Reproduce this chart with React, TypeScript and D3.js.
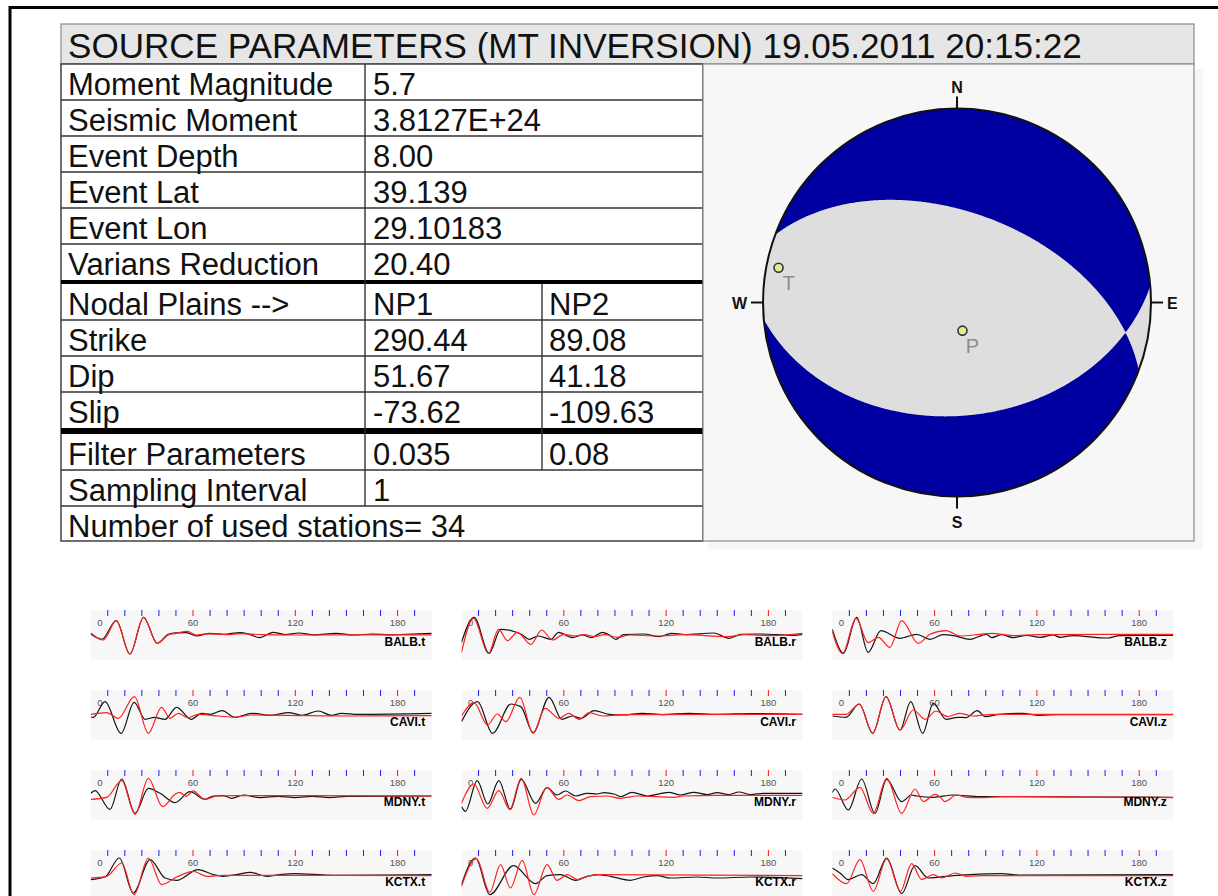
import React from "react";
import * as d3 from "d3";

// ---------------- DATA ----------------
const TITLE = "SOURCE PARAMETERS (MT INVERSION) 19.05.2011 20:15:22";
const INFO_LABELS = ["Moment Magnitude", "Seismic Moment", "Event Depth", "Event Lat", "Event Lon", "Varians Reduction"];
const INFO_VALUES = ["5.7", "3.8127E+24", "8.00", "39.139", "29.10183", "20.40"];
const PLANE_LABELS = ["Nodal Plains -->", "Strike", "Dip", "Slip"];
const NP1_VALUES = ["NP1", "290.44", "51.67", "-73.62"];
const NP2_VALUES = ["NP2", "89.08", "41.18", "-109.63"];
const FILTER_VALUES = ["0.035", "0.08"];
const SAMPLING_INTERVAL = "1";
const USED_STATIONS = 34;

// focal mechanism (NP1) used for the beachball
const STRIKE = 290.44;
const DIP = 51.67;
const RAKE = -73.62;
// principal axes as plotted (azimuth, plunge in degrees)
const AXIS_NAMES = ["T", "P"];
const AXIS_AZ = [281, 169];
const AXIS_PLUNGE = [7, 78];
const COMPASS = ["N", "E", "S", "W"];

// waveform panels
const STATIONS = ["BALB", "CAVI", "MDNY", "KCTX"];
const COMPONENTS = ["t", "r", "z"];
const TIME_LABELS = [0, 60, 120, 180];
const TIME_TICKS = [10, 20, 30, 40, 50, 60, 70, 80, 90, 100, 110, 120, 130, 140, 150, 160, 170, 180, 190];

type P = [number, number];
// [time s, amplitude] observed (black) and synthetic (red)
const BALB_T_OBS: P[] = [[0,1],[6.5,-5],[15,13.7],[23,-19.7],[31,17],[39,-9],[45.5,0],[50,1.5],[56,1.7],[62,-1.7],[70,1],[78,0],[87.6,1.7],[93,0],[99,-3.3],[107,2],[114,-0.3],[122,1.3],[131,-0.5],[144,1],[154,-0.7],[165,0.3],[175,-0.5],[185,0],[200,1]];
const BALB_T_SYN: P[] = [[0,0],[7.4,-5.7],[15,13.7],[23,-19.7],[31,17],[39,-9],[45.5,-0.7],[50,1],[56.7,3],[62,-0.7],[68,0.5],[80,-0.3],[88,0.7],[100,-0.3],[120,-0.7],[200,-0.5]];
const BALB_R_OBS: P[] = [[0,-8],[7.4,17],[16.2,-19],[23,5],[29,3.7],[35,0],[39.7,-5],[45,-1.7],[52.4,-5],[57,2],[65,-3.3],[71,-0.7],[76,-3.3],[82.7,2],[86,0],[90.5,-5],[95,-0.3],[107,0.3],[116,-2.3],[123,1],[131,-0.3],[148,1.3],[157,-4],[164,0],[175,0.3],[195,-1],[200,0]];
const BALB_R_SYN: P[] = [[0,-18],[7,16],[15.8,-19],[21.7,5],[27,-6.3],[32.8,2],[40.7,-10],[47,4.3],[53.4,-5.7],[60,0],[66,-1.7],[72,-0.3],[78,-2.3],[84,-0.3],[91.5,-3],[99,-0.7],[115,-1.7],[130,-0.3],[156,-2.3],[166,-0.3],[181,-1.3],[200,1]];
const BALB_Z_OBS: P[] = [[0,5],[6.5,-19],[14.3,17],[21,-18],[28.5,3.7],[39.7,-4],[49.5,0],[57.3,-5],[65,-0.3],[71,-1.3],[80.7,-5],[90.5,0],[93.5,-3.3],[99.3,-0.3],[106,-3.3],[114,-1],[122,-3],[129.6,-0.7],[133.5,-3],[141,-1.3],[161,-3.7],[168.7,-1.3],[200,-1]];
const BALB_Z_SYN: P[] = [[0,2.7],[6,-19],[13.9,16],[21,-8.3],[27,-3],[33.8,-13],[40.7,13.7],[50.4,-9],[57.3,0],[66.7,3.7],[75,-1.7],[86.6,0],[93.5,1],[106,-1.3],[120,-0.3],[200,0]];

const CAVI_T_OBS: P[] = [[0,-2.7],[1.5,-3],[8.4,12.7],[17.8,-19],[25.5,12],[31.9,-5],[37.5,-3],[43.5,-5],[50.4,7],[59,-5],[65,1],[70,0],[77,3.7],[84.7,-3],[94.4,1],[106,-1],[116,1.7],[124,-1],[133.5,3.3],[141,-1],[147,1],[157,0],[200,1]];
const CAVI_T_SYN: P[] = [[0,0],[9.4,1.7],[16.2,-4],[25.6,17.7],[33.8,-19],[41.6,7],[46.5,-4],[51.4,1],[57,-3.3],[63,0],[75,-1.7],[84.7,-3],[94.4,-0.7],[114,-1],[153,-1.7],[200,-1.3]];
const CAVI_R_OBS: P[] = [[0,-7.3],[9.4,12.7],[18.2,-19],[29,10.3],[34.8,7.7],[42,-18.3],[51.4,17],[58.8,-5],[65,-1.7],[70,-4],[77.8,3.7],[86.6,0],[94.4,-0.7],[106,1],[118,-0.3],[133.5,1],[150,0],[170,0.7],[200,0]];
const CAVI_R_SYN: P[] = [[0,-1.7],[7.4,11.7],[15.2,-10.7],[21,0.3],[26,-7.3],[34.2,17],[42,-19],[49,6],[57.3,-4],[62.8,1],[69,-5],[75,1.7],[82.7,-1.7],[94.4,-0.3],[200,0]];
const CAVI_Z_OBS: P[] = [[0,-1.7],[8,-3],[15.8,10.3],[23.7,-19],[31.5,17.7],[39.7,-15.7],[46,12.7],[53,-19],[59.2,11],[66.7,-5],[73.5,-3],[78.4,-3.3],[85,3.7],[89.8,-2.3],[98,0],[111.6,1],[121.4,-1],[133,-0.3],[200,-0.3]];
const CAVI_Z_SYN: P[] = [[0,0],[8,0],[15.8,10.3],[23.7,-19],[31.5,17.7],[39.7,-15.7],[47.5,4.3],[54.5,-5],[60.8,3.3],[67.6,-2.3],[74.5,1],[82.3,-1.7],[94,0],[200,0]];

const MDNY_T_OBS: P[] = [[0,1],[2.5,3.7],[11.3,-15],[18.2,15.3],[26,-19],[33.8,6],[40.7,1],[49.5,-8.3],[58.3,2.7],[67,-5],[71.9,-1.7],[77.8,-1.3],[82.7,-4],[89.5,-0.7],[99.3,-3.3],[110,-2],[120,-3.3],[130,-2],[140,-3.3],[150,-2],[200,-1.7]];
const MDNY_T_SYN: P[] = [[0,-5],[9.4,-3],[18.2,13.7],[26,-20],[33.8,16],[42.2,-12.3],[49.5,0],[52,2],[56,-2],[60,3.5],[67,-5],[74,-1.7],[84,-1.3],[200,-1.7]];
const MDNY_R_OBS: P[] = [[0,-12.3],[2.3,-17],[9.2,13.7],[15.4,-9.7],[21.9,13.7],[28.7,-15],[35,15],[43.4,-9],[50.2,6.7],[56,-0.7],[61,3.3],[67,-1.7],[73.7,1],[79.6,0.3],[83.5,1.7],[89.9,0],[93.3,-2.3],[100,2],[108.9,-1.7],[121.6,2],[128.4,-0.7],[136.3,2],[144,-0.3],[150,1.7],[156.8,-0.3],[162.7,2.3],[169.5,-0.3],[177,1],[200,1]];
const MDNY_R_SYN: P[] = [[0,-9],[7.2,10.3],[15,-14],[21.9,3.7],[28.3,-15],[35,16],[42.4,-20.7],[49.9,7],[57,-5],[62,-0.7],[68.8,-6.3],[75.7,-2.3],[85.5,-1.7],[93,-4],[103,-1.7],[124.5,-3],[130,-1.7],[150,-1],[200,-1]];
const MDNY_Z_OBS: P[] = [[0,1.7],[1.6,5.3],[9.4,-15.7],[17.2,15.3],[25,-19],[31.9,15],[40.7,-7.3],[46.5,-0.7],[49.5,-1.7],[59.2,-3],[71,-0.7],[86.6,-2.3],[100,-2.3],[120,-2.3],[150,-2.7],[200,-3]];
const MDNY_Z_SYN: P[] = [[0,-3],[7.4,-5.7],[16.2,7],[24,-19],[31.9,16],[40.7,-19],[48.5,5.3],[53.4,-7.3],[60.2,0],[63,-2.3],[66,-7.3],[72.9,-0.7],[78.8,-3],[86.6,-3.3],[100,-2.3],[200,-3.3]];

const KCTX_T_OBS: P[] = [[0,-5.3],[8.4,-2.7],[16.8,16.3],[25,-18.7],[34.8,14.7],[43.6,-3.7],[50.4,-6],[63,4.7],[71.9,-0.3],[77.8,-2],[85.5,-0.3],[93.5,2],[103,-2],[111,-0.3],[119,0.7],[142.6,-1],[200,-0.3]];
const KCTX_T_SYN: P[] = [[0,-3.7],[9.4,-2],[18.2,11.3],[25.4,-20.3],[33.8,16.3],[41.6,-10.3],[50.4,-2.7],[60.2,3],[68,-2],[77.8,-1],[200,-1.3]];
const KCTX_R_OBS: P[] = [[0,-10.3],[8.2,16.3],[16.6,-20.3],[30.5,8.7],[43.4,-9.3],[50.2,-1.3],[58,-0.3],[66.9,-6],[73.7,-2],[79.6,-0.3],[87.4,-2],[99,-6],[106.9,-2.7],[114.8,-1.3],[122.6,-3.7],[138.3,-2.7],[150,-3.7],[169.5,-2.7],[200,-4.3]];
const KCTX_R_SYN: P[] = [[0,-12],[8.8,15.7],[16.6,-18],[22.9,9.7],[28.7,-13.7],[35.6,14],[42.4,-20.3],[50.2,9.7],[56,-6],[62,-0.3],[68,-5.3],[74,-2],[80,-0.3],[200,-1.3]];
const KCTX_Z_OBS: P[] = [[0,6.3],[4.5,1.3],[9.4,-5.3],[17.2,-0.3],[24,-9.3],[31.9,16.3],[40.7,-19.3],[48.5,8.7],[56.3,-3.7],[71,-1.3],[80.7,-0.3],[99.3,0.7],[110,-0.7],[200,-0.3]];
const KCTX_Z_SYN: P[] = [[0,0.7],[8.4,-9.3],[16.2,14.7],[24,-17],[31.9,15.3],[40,-17],[46.5,10.7],[52.4,-5.3],[59.2,-0.3],[64,-3.7],[72,1.3],[78.8,-2],[90,-1.3],[200,-1.3]];

const TRACES: Record<string, [P[], P[]]> = {
  "BALB.t": [BALB_T_OBS, BALB_T_SYN], "BALB.r": [BALB_R_OBS, BALB_R_SYN], "BALB.z": [BALB_Z_OBS, BALB_Z_SYN],
  "CAVI.t": [CAVI_T_OBS, CAVI_T_SYN], "CAVI.r": [CAVI_R_OBS, CAVI_R_SYN], "CAVI.z": [CAVI_Z_OBS, CAVI_Z_SYN],
  "MDNY.t": [MDNY_T_OBS, MDNY_T_SYN], "MDNY.r": [MDNY_R_OBS, MDNY_R_SYN], "MDNY.z": [MDNY_Z_OBS, MDNY_Z_SYN],
  "KCTX.t": [KCTX_T_OBS, KCTX_T_SYN], "KCTX.r": [KCTX_R_OBS, KCTX_R_SYN], "KCTX.z": [KCTX_Z_OBS, KCTX_Z_SYN],
};

// ---------------- LAYOUT / STYLE ----------------
const FONT = "'Liberation Sans', Arial, sans-serif";
const TX0 = 61, TX1 = 703, COL1 = 365, COL2 = 542;
const ROW_H = 36;
const G1 = 64, G2 = 284, G3 = 434;
const BB = { x0: 703, y0: 64, x1: 1194, y1: 541, cx: 957, cy: 302.5, R: 194 };
const BLUE = "#0000a0";
const LIGHT = "#dedede";

function momentTensor(strike: number, dip: number, rake: number) {
  const r = Math.PI / 180;
  const p = strike * r, d = dip * r, l = rake * r;
  const sd = Math.sin(d), cd = Math.cos(d), s2d = Math.sin(2 * d), c2d = Math.cos(2 * d);
  const sl = Math.sin(l), cl = Math.cos(l);
  const sp = Math.sin(p), cp = Math.cos(p), s2p = Math.sin(2 * p), c2p = Math.cos(2 * p);
  const xx = -(sd * cl * s2p + s2d * sl * sp * sp);
  const xy = sd * cl * c2p + 0.5 * s2d * sl * s2p;
  const xz = -(cd * cl * cp + c2d * sl * sp);
  const yy = sd * cl * s2p - s2d * sl * cp * cp;
  const yz = -(cd * cl * sp - c2d * sl * cp);
  const zz = s2d * sl;
  return { xx, xy, xz, yy, yz, zz };
}

function Beachball() {
  const { cx, cy, R } = BB;
  const N = 320, ext = 1.06, step = (2 * ext) / N;
  const M = momentTensor(STRIKE, DIP, RAKE);
  const vals = new Float64Array(N * N);
  for (let j = 0; j < N; j++) {
    for (let i = 0; i < N; i++) {
      const e = -ext + (i + 0.5) * step;
      const n = ext - (j + 0.5) * step;
      let r = Math.hypot(e, n);
      if (r > 1.414) r = 1.414;
      const inc = 2 * Math.asin(r / Math.SQRT2);
      const az = Math.atan2(e, n);
      const dn = Math.sin(inc) * Math.cos(az), de = Math.sin(inc) * Math.sin(az), dd = Math.cos(inc);
      vals[j * N + i] =
        M.xx * dn * dn + M.yy * de * de + M.zz * dd * dd +
        2 * (M.xy * dn * de + M.xz * dn * dd + M.yz * de * dd);
    }
  }
  const contours = d3.contours().size([N, N]).thresholds([0])(Array.from(vals));
  const proj = d3.geoIdentity().scale(step * R).translate([cx - ext * R, cy - ext * R]);
  const path = d3.geoPath(proj);

  const axisPos = AXIS_NAMES.map((name, k) => {
    const inc = ((90 - AXIS_PLUNGE[k]) * Math.PI) / 180;
    const r = Math.SQRT2 * Math.sin(inc / 2);
    const az = (AXIS_AZ[k] * Math.PI) / 180;
    return { name, x: cx + R * r * Math.sin(az), y: cy - R * r * Math.cos(az) };
  });

  const compassPos: Record<string, { tx: number; ty: number; lx: number; ly: number; x2: number; y2: number; anchor: string }> = {
    N: { tx: cx, ty: cy - R, x2: cx, y2: cy - R - 12, lx: cx, ly: cy - R - 16, anchor: "middle" },
    S: { tx: cx, ty: cy + R, x2: cx, y2: cy + R + 12, lx: cx, ly: cy + R + 31, anchor: "middle" },
    E: { tx: cx + R, ty: cy, x2: cx + R + 12, y2: cy, lx: cx + R + 16, ly: cy + 6, anchor: "start" },
    W: { tx: cx - R, ty: cy, x2: cx - R - 12, y2: cy, lx: cx - R - 16, ly: cy + 6, anchor: "end" },
  };

  return (
    <g>
      <rect x={708} y={BB.y0 + 5} width={495} height={BB.y1 - BB.y0 + 4} fill="#f7f7f7" />
      <rect x={BB.x0} y={BB.y0} width={BB.x1 - BB.x0} height={BB.y1 - BB.y0} fill="#f7f7f7" stroke="#8a8a8a" strokeWidth={1.2} />
      <defs>
        <clipPath id="bbclip">
          <circle cx={cx} cy={cy} r={R} />
        </clipPath>
      </defs>
      <circle cx={cx} cy={cy} r={R} fill={LIGHT} />
      <g clipPath="url(#bbclip)">
        {contours.map((c, k) => (
          <path key={k} d={path(c as any) || ""} fill={BLUE} />
        ))}
      </g>
      <circle cx={cx} cy={cy} r={R} fill="none" stroke="#111" strokeWidth={2} />
      {COMPASS.map((k) => {
        const c = compassPos[k];
        return (
          <g key={k}>
            <line x1={c.tx} y1={c.ty} x2={c.x2} y2={c.y2} stroke="#111" strokeWidth={2} />
            <text x={c.lx} y={c.ly} textAnchor={c.anchor as any} fontFamily={FONT} fontWeight="bold" fontSize={16} fill="#111">
              {k}
            </text>
          </g>
        );
      })}
      {axisPos.map((a) => (
        <g key={a.name}>
          <circle cx={a.x} cy={a.y} r={4.5} fill="#e8e89c" stroke="#333" strokeWidth={1.6} />
          <text x={a.x + 10} y={a.y + 22} fontFamily={FONT} fontSize={20} fill="#8c8c8c" textAnchor="middle">
            {a.name}
          </text>
        </g>
      ))}
    </g>
  );
}

function Table() {
  const textProps = { fontFamily: FONT, fontSize: 31, fill: "#111" };
  const rows: JSX.Element[] = [];
  const hlines: number[] = [];
  INFO_LABELS.forEach((lab, i) => {
    const top = G1 + i * ROW_H;
    rows.push(
      <g key={"i" + i}>
        <text x={68} y={top + 30.5} {...textProps}>{lab}</text>
        <text x={COL1 + 8} y={top + 30.5} {...textProps}>{INFO_VALUES[i]}</text>
      </g>
    );
    if (i > 0) hlines.push(top);
  });
  PLANE_LABELS.forEach((lab, i) => {
    const top = G2 + i * ROW_H;
    rows.push(
      <g key={"p" + i}>
        <text x={68} y={top + 30.5} {...textProps}>{lab}</text>
        <text x={COL1 + 8} y={top + 30.5} {...textProps}>{NP1_VALUES[i]}</text>
        <text x={COL2 + 7} y={top + 30.5} {...textProps}>{NP2_VALUES[i]}</text>
      </g>
    );
    if (i > 0) hlines.push(top);
  });
  const g3Labels = ["Filter Parameters", "Sampling Interval"];
  rows.push(
    <g key="f">
      <text x={68} y={G3 + 30.5} {...textProps}>{g3Labels[0]}</text>
      <text x={COL1 + 8} y={G3 + 30.5} {...textProps}>{FILTER_VALUES[0]}</text>
      <text x={COL2 + 7} y={G3 + 30.5} {...textProps}>{FILTER_VALUES[1]}</text>
      <text x={68} y={G3 + ROW_H + 30.5} {...textProps}>{g3Labels[1]}</text>
      <text x={COL1 + 8} y={G3 + ROW_H + 30.5} {...textProps}>{SAMPLING_INTERVAL}</text>
      <text x={68} y={G3 + 2 * ROW_H + 30.5} {...textProps}>{`Number of used stations= ${USED_STATIONS}`}</text>
    </g>
  );
  hlines.push(G3 + ROW_H, G3 + 2 * ROW_H);
  const bottom = G3 + 3 * ROW_H - 1;
  return (
    <g>
      <rect x={TX0} y={24} width={BB.x1 - TX0} height={40} fill="#e6e6e6" stroke="#8a8a8a" strokeWidth={1.2} />
      <text x={68} y={57.5} fontFamily={FONT} fontSize={35.1} fill="#111">{TITLE}</text>
      <rect x={TX0} y={G1} width={TX1 - TX0} height={bottom - G1} fill="#fff" stroke="#333" strokeWidth={1.4} />
      {hlines.map((y, k) => (
        <line key={k} x1={TX0} x2={TX1} y1={y} y2={y} stroke="#333" strokeWidth={1.4} />
      ))}
      <rect x={TX0} y={G1 + 6 * ROW_H} width={TX1 - TX0} height={G2 - (G1 + 6 * ROW_H)} fill="#000" />
      <rect x={TX0} y={G2 + 4 * ROW_H} width={TX1 - TX0} height={G3 - (G2 + 4 * ROW_H)} fill="#000" />
      <line x1={COL1} x2={COL1} y1={G1} y2={G3 + 2 * ROW_H} stroke="#333" strokeWidth={1.4} />
      <line x1={COL2} x2={COL2} y1={G2} y2={G3 + ROW_H} stroke="#333" strokeWidth={1.4} />
      {rows}
    </g>
  );
}

const PANEL_W = 341, PANEL_H = 50;
const PANEL_X0 = 90.7, PANEL_DX = 370.8, PANEL_Y0 = 610, PANEL_DY = 80;

function Panel({ name, left, top, idx }: { name: string; left: number; top: number; idx: number }) {
  const x = d3.scaleLinear().domain([0, 200]).range([left, left + PANEL_W]);
  const base = top + 24.3;
  const y = d3.scaleLinear().domain([-25, 25]).range([base + 25, base - 25]);
  const line = d3
    .line<P>()
    .x((d) => x(d[0]))
    .y((d) => y(d[1]))
    .curve(d3.curveMonotoneX);
  const [obs, syn] = TRACES[name];
  const cid = "pclip" + idx;
  return (
    <g>
      <rect x={left} y={top} width={PANEL_W} height={PANEL_H} fill="#f7f7f7" />
      {TIME_TICKS.map((t) => (
        <line key={t} x1={x(t)} x2={x(t)} y1={top} y2={top + 6} stroke={t % 60 === 0 ? "#ff1010" : "#1a1aff"} strokeWidth={1} />
      ))}
      {TIME_LABELS.map((t) => (
        <text
          key={t}
          x={t === 0 ? x(t) + 6.5 : x(t)}
          y={top + 16}
          textAnchor={t === 0 ? "start" : "middle"}
          fontFamily={FONT}
          fontSize={9.5}
          fill="#555"
        >
          {t}
        </text>
      ))}
      <defs>
        <clipPath id={cid}>
          <rect x={left} y={top} width={PANEL_W} height={PANEL_H} />
        </clipPath>
      </defs>
      <g clipPath={`url(#${cid})`}>
        <path d={line(obs) || ""} fill="none" stroke="#151515" strokeWidth={1.2} />
        <path d={line(syn) || ""} fill="none" stroke="#ff2020" strokeWidth={1.2} />
      </g>
      <text x={left + PANEL_W - 6.5} y={top + 35.7} textAnchor="end" fontFamily={FONT} fontWeight="bold" fontSize={12} fill="#000">
        {name}
      </text>
    </g>
  );
}

export default function App() {
  const panels: JSX.Element[] = [];
  STATIONS.forEach((s, r) => {
    COMPONENTS.forEach((c, k) => {
      const name = `${s}.${c}`;
      panels.push(
        <Panel key={name} name={name} idx={r * 3 + k} left={PANEL_X0 + k * PANEL_DX} top={PANEL_Y0 + r * PANEL_DY} />
      );
    });
  });
  return (
    <svg width={1218} height={896} style={{ position: "absolute", left: 0, top: 0, background: "#fff" }}>
      <rect x={0} y={0} width={1218} height={896} fill="#fff" />
      <path d="M10,900 V7.5 H1220" fill="none" stroke="#000" strokeWidth={3} />
      <Table />
      <Beachball />
      {panels}
    </svg>
  );
}
